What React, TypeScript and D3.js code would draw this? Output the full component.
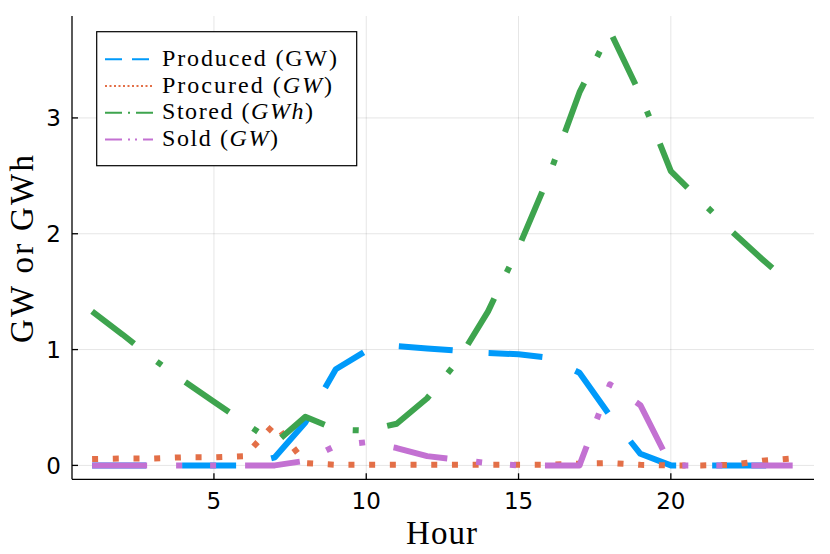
import { useEffect, useRef } from "react";
import * as d3 from "d3";

const HOURS = [1, 2, 3, 4, 5, 6, 7, 8, 9, 10, 11, 12, 13, 14, 15, 16, 17, 18, 19, 20, 21, 22, 23, 24];
const PRODUCED = [0, 0, 0, 0, 0, 0, 0.07, 0.37, 0.83, 0.99, 1.03, 1.01, 0.99, 0.97, 0.96, 0.93, 0.8, 0.43, 0.1, 0, 0, 0, 0, 0];
const PROCURED = [0.055, 0.06, 0.06, 0.07, 0.07, 0.08, 0.36, 0.02, 0.005, 0.005, 0.005, 0.005, 0.005, 0.005, 0.005, 0.005, 0.015, 0.02, 0.005, 0, 0, 0.005, 0.04, 0.06];
const STORED = [1.33, 1.13, 0.92, 0.73, 0.55, 0.37, 0.19, 0.42, 0.31, 0.3, 0.36, 0.58, 0.9, 1.33, 1.88, 2.5, 3.22, 3.75, 3.2, 2.54, 2.28, 2.02, 1.78, 1.55];
const SOLD = [0, 0, 0, 0, 0, 0, 0, 0.04, 0.17, 0.2, 0.15, 0.08, 0.05, 0.02, 0, 0, 0, 0.7, 0.52, 0, 0, 0, 0, 0];
const X_TICKS = [5, 10, 15, 20];
const Y_TICKS = [0, 1, 2, 3];

// label parts: [text, italic]
const SERIES: { name: [string, boolean][]; values: number[]; color: string; dash: string; legDash: string; width: number }[] = [
  { name: [["Produced (GW)", false]], values: PRODUCED, color: "#009AFA", dash: "54,36", legDash: "17,10", width: 75 },
  { name: [["Procured (", false], ["GW", true], [")", false]], values: PROCURED, color: "#E36F47", dash: "6,14.7", legDash: "2,2.5", width: 170 },
  { name: [["Stored (", false], ["GWh", true], [")", false]], values: STORED, color: "#3EA44E", dash: "53,29,6,29", legDash: "17,6,2,6", width: 151 },
  { name: [["Sold (", false], ["GW", true], [")", false]], values: SOLD, color: "#C371D2", dash: "55,29,6,28,6,29", legDash: "17,6,2,5,2,6", width: 116 },
];

const SERIF = "'Liberation Serif', 'DejaVu Serif', serif";
const SANS = "'DejaVu Sans', sans-serif";

export default function App() {
  const ref = useRef<SVGSVGElement>(null);

  useEffect(() => {
    const el = ref.current;
    if (!el) return;
    const W = 830, H = 554;
    const svg = d3.select(el).attr("width", W).attr("height", H);
    svg.selectAll("*").remove();

    const x = d3.scaleLinear().domain([0.34, 24.7]).range([72, 814]);
    const y = d3.scaleLinear().domain([-0.12, 3.88]).range([479.3, 16]);
    const [x0, x1] = x.range();
    const [y0, y1] = y.range();

    // grid
    svg.append("g").selectAll("line").data(X_TICKS).join("line")
      .attr("x1", (d) => x(d)).attr("x2", (d) => x(d)).attr("y1", y0).attr("y2", y1)
      .attr("stroke", "#000").attr("stroke-opacity", 0.1).attr("stroke-width", 1);
    svg.append("g").selectAll("line").data(Y_TICKS).join("line")
      .attr("x1", x0).attr("x2", x1).attr("y1", (d) => y(d)).attr("y2", (d) => y(d))
      .attr("stroke", "#000").attr("stroke-opacity", 0.1).attr("stroke-width", 1);

    // series
    const line = d3.line<number>().x((_, i) => x(HOURS[i])).y((d) => y(d));
    SERIES.forEach((s) => {
      svg.append("path").datum(s.values).attr("d", line)
        .attr("fill", "none").attr("stroke", s.color).attr("stroke-width", 6)
        .attr("stroke-dasharray", s.dash).attr("stroke-linejoin", "round").attr("stroke-linecap", "butt");
    });

    // axes
    svg.append("line").attr("x1", x0).attr("x2", x1).attr("y1", y0).attr("y2", y0).attr("stroke", "#000").attr("stroke-width", 1.3);
    svg.append("line").attr("x1", x0).attr("x2", x0).attr("y1", y0).attr("y2", y1).attr("stroke", "#000").attr("stroke-width", 1.3);
    svg.append("g").selectAll("line").data(X_TICKS).join("line")
      .attr("x1", (d) => x(d)).attr("x2", (d) => x(d)).attr("y1", y0).attr("y2", y0 - 6).attr("stroke", "#000").attr("stroke-width", 1.3);
    svg.append("g").selectAll("line").data(Y_TICKS).join("line")
      .attr("x1", x0).attr("x2", x0 + 6).attr("y1", (d) => y(d)).attr("y2", (d) => y(d)).attr("stroke", "#000").attr("stroke-width", 1.3);

    svg.append("g").selectAll("text").data(X_TICKS).join("text")
      .attr("x", (d) => x(d)).attr("y", 509).attr("text-anchor", "middle")
      .attr("font-family", SANS).attr("font-size", 23).attr("fill", "#000").text((d) => d);
    svg.append("g").selectAll("text").data(Y_TICKS).join("text")
      .attr("x", 61).attr("y", (d) => y(d) + 8.5).attr("text-anchor", "end")
      .attr("font-family", SANS).attr("font-size", 23).attr("fill", "#000").text((d) => d);

    // axis labels
    svg.append("text").attr("x", 406).attr("y", 544).attr("font-family", SERIF).attr("font-size", 33)
      .attr("textLength", 71).attr("lengthAdjust", "spacing").text("Hour");
    svg.append("text").attr("transform", "translate(33,343) rotate(-90)").attr("font-family", SERIF).attr("font-size", 33)
      .attr("textLength", 188).attr("lengthAdjust", "spacing").text("GW or GWh");

    // legend
    const leg = svg.append("g");
    leg.append("rect").attr("x", 96.7).attr("y", 31.7).attr("width", 260).attr("height", 134)
      .attr("fill", "#fff").attr("stroke", "#000").attr("stroke-width", 1.2);
    SERIES.forEach((s, i) => {
      const cy = 59.3 + i * 26.7;
      leg.append("line").attr("x1", 105).attr("x2", 153).attr("y1", cy).attr("y2", cy)
        .attr("stroke", s.color).attr("stroke-width", 2).attr("stroke-dasharray", s.legDash);
      const t = leg.append("text").attr("x", 162).attr("y", cy + 6.5).attr("font-family", SERIF).attr("font-size", 24)
        .attr("textLength", i === 0 ? 175 : s.width).attr("lengthAdjust", "spacing");
      s.name.forEach(([txt, it]) => t.append("tspan").attr("font-style", it ? "italic" : "normal").text(txt));
    });
  }, []);

  return <svg ref={ref} style={{ position: "absolute", left: 0, top: 0, background: "#fff" }} role="img" aria-label="Energy by hour" />;
}
